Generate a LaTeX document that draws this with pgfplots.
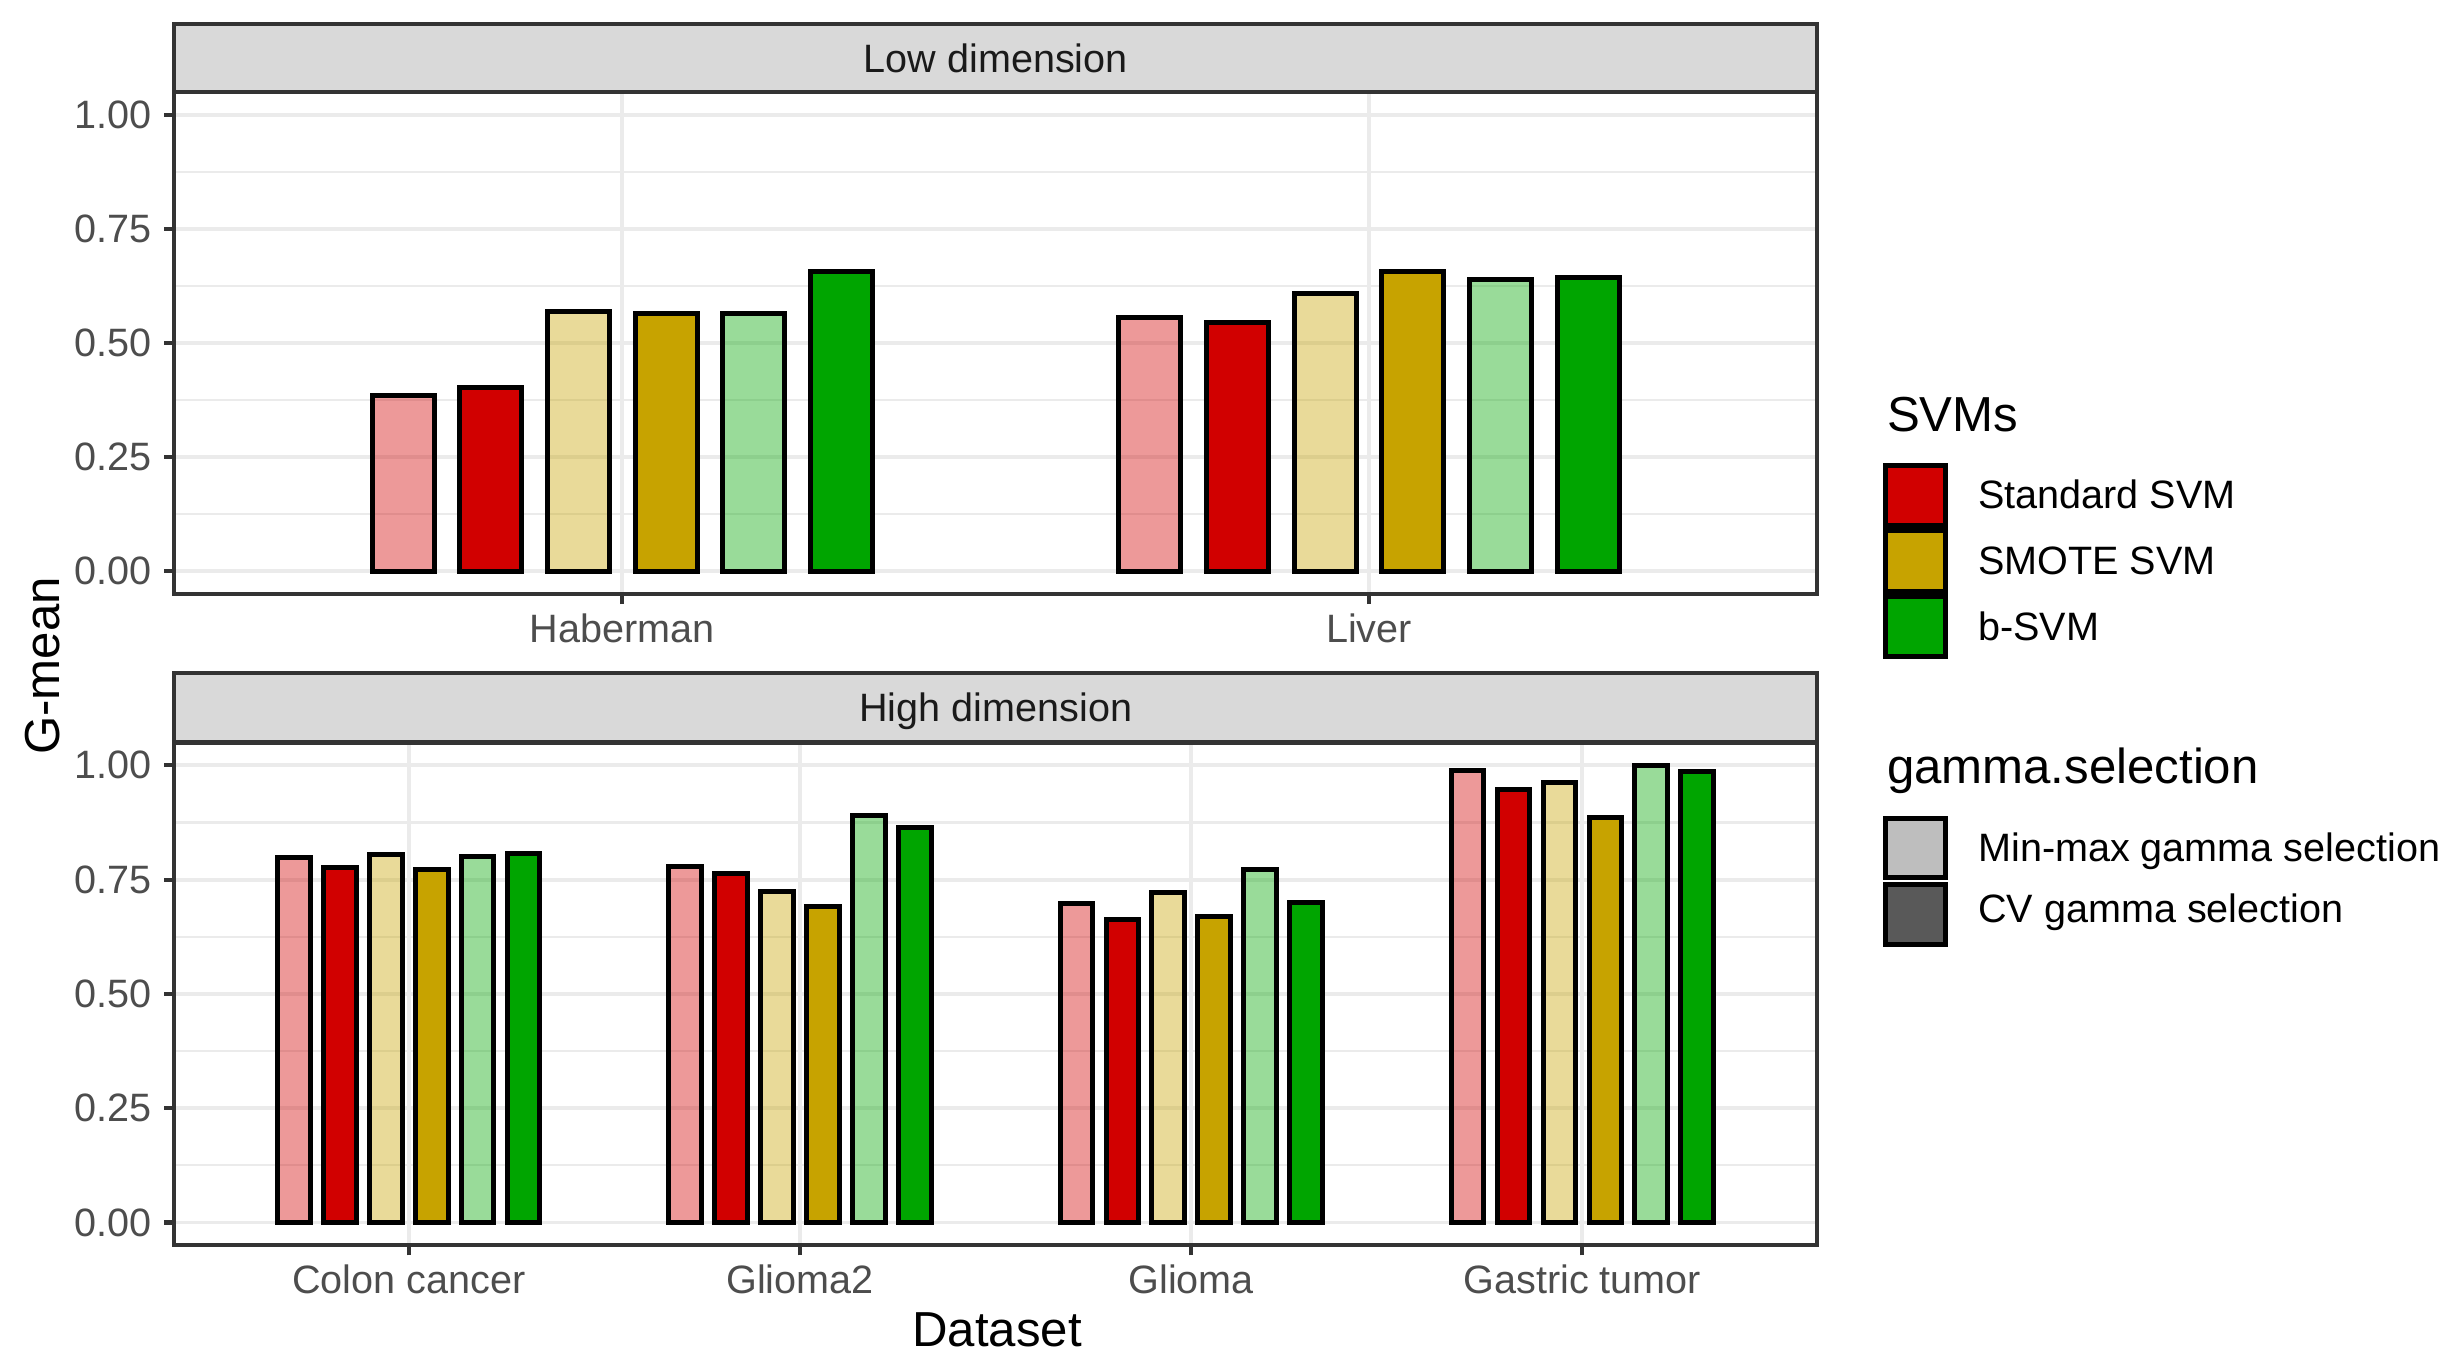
\documentclass[border=0pt]{standalone}
\usepackage{fontspec}
\setmainfont{Liberation Sans}
\usepackage{pgfplots}
\usepackage{pgfplotstable}
\pgfplotsset{compat=1.18}

\definecolor{svmRed}{HTML}{D10000}
\definecolor{svmGold}{HTML}{C7A300}
\definecolor{svmGreen}{HTML}{00A500}
\definecolor{grayXX}{HTML}{333333}
\definecolor{grayXXX}{HTML}{4D4D4D}
\definecolor{gridc}{HTML}{EBEBEB}
\definecolor{stripc}{HTML}{D9D9D9}
\definecolor{striptext}{HTML}{1A1A1A}
\definecolor{keyLight}{HTML}{BEBEBE}
\definecolor{keyDark}{HTML}{595959}

% G-mean, columns: min-max / CV for Standard, SMOTE, b-SVM
\pgfplotstableread{
idx mmstd cvstd mmsmote cvsmote mmb cvb
1 0.386 0.402 0.570 0.564 0.565 0.656
2 0.556 0.546 0.609 0.657 0.640 0.644
}\lowdim

\pgfplotstableread{
idx mmstd cvstd mmsmote cvsmote mmb cvb
1 0.798 0.776 0.806 0.772 0.801 0.808
2 0.778 0.764 0.724 0.691 0.891 0.863
3 0.697 0.662 0.721 0.669 0.772 0.699
4 0.988 0.947 0.962 0.885 0.999 0.986
}\highdim

\newcommand{\smallfont}{\fontsize{9.5}{11}\selectfont}
\newcommand{\bigfont}{\fontsize{11.8}{14}\selectfont}

\pgfplotsset{
  panel/.style={
    scale only axis, width=394.3pt,
    ybar, bar width=0.083,
    ymin=-0.05, ymax=1.05,
    ytick={0,0.25,0.5,0.75,1},
    yticklabels={0.00,0.25,0.50,0.75,1.00},
    minor ytick={0.125,0.375,0.625,0.875},
    grid=both,
    major grid style={color=gridc, line width=0.9pt},
    minor grid style={color=gridc, line width=0.5pt},
    axis line style={color=grayXX, line width=1pt},
    tick align=outside, xtick pos=left, ytick pos=left,
    major tick length=2.4pt, minor tick length=0pt,
    major tick style={color=grayXX, line width=1pt},
    ticklabel style={font=\smallfont, text=grayXXX},
    xticklabel style={yshift=1.3pt},
    yticklabel style={xshift=0.4pt},
    /pgf/number format/assume math mode=true,
  },
  mm/.style={fill=#1, fill opacity=0.4, draw=black, draw opacity=1, line width=1.2pt},
  cv/.style={fill=#1, draw=black, line width=1.2pt},
}

\begin{document}
\begin{tikzpicture}
\useasboundingbox (0,0) rectangle (589.7pt,-327.6pt);

% top panel: low dimension
\begin{axis}[panel, at={(41.8pt,-22.1pt)}, anchor=north west, height=120.5pt,
  xmin=0.4, xmax=2.6, xtick={1,2}, xticklabels={Haberman,Liver}]
\addplot[mm=svmRed,   bar shift=-0.2935] table[x=idx,y=mmstd]{\lowdim};
\addplot[cv=svmRed,   bar shift=-0.1761] table[x=idx,y=cvstd]{\lowdim};
\addplot[mm=svmGold,  bar shift=-0.0587] table[x=idx,y=mmsmote]{\lowdim};
\addplot[cv=svmGold,  bar shift=0.0587]  table[x=idx,y=cvsmote]{\lowdim};
\addplot[mm=svmGreen, bar shift=0.1761]  table[x=idx,y=mmb]{\lowdim};
\addplot[cv=svmGreen, bar shift=0.2935]  table[x=idx,y=cvb]{\lowdim};
\end{axis}

% bottom panel: high dimension
\begin{axis}[panel, at={(41.8pt,-178.2pt)}, anchor=north west, height=120.7pt,
  xmin=0.4, xmax=4.6, xtick={1,2,3,4},
  xticklabels={Colon cancer,Glioma2,Glioma,Gastric tumor}]
\addplot[mm=svmRed,   bar shift=-0.2935] table[x=idx,y=mmstd]{\highdim};
\addplot[cv=svmRed,   bar shift=-0.1761] table[x=idx,y=cvstd]{\highdim};
\addplot[mm=svmGold,  bar shift=-0.0587] table[x=idx,y=mmsmote]{\highdim};
\addplot[cv=svmGold,  bar shift=0.0587]  table[x=idx,y=cvsmote]{\highdim};
\addplot[mm=svmGreen, bar shift=0.1761]  table[x=idx,y=mmb]{\highdim};
\addplot[cv=svmGreen, bar shift=0.2935]  table[x=idx,y=cvb]{\highdim};
\end{axis}

% facet strips
\draw[fill=stripc, draw=grayXX, line width=1pt] (41.8pt,-5.7pt) rectangle (436.1pt,-22.1pt);
\node[anchor=base, font=\smallfont, text=striptext] at (239pt,-17.3pt) {Low dimension};
\draw[fill=stripc, draw=grayXX, line width=1pt] (41.8pt,-161.6pt) rectangle (436.1pt,-178.2pt);
\node[anchor=base, font=\smallfont, text=striptext] at (239pt,-173.2pt) {High dimension};

% axis titles
\node[anchor=base, font=\bigfont] at (239.3pt,-323.2pt) {Dataset};
\node[anchor=base, rotate=90, font=\bigfont] at (14.2pt,-159.8pt) {G-mean};

% legends
\begin{scope}[line width=1.2pt]
\node[anchor=base west, font=\bigfont, inner sep=0pt] at (452.3pt,-103.6pt) {SVMs};
\draw[fill=svmRed]   (452.6pt,-111.6pt) rectangle (467.0pt,-126.15pt);
\draw[fill=svmGold]  (452.6pt,-127.35pt) rectangle (467.0pt,-141.9pt);
\draw[fill=svmGreen] (452.6pt,-143.1pt) rectangle (467.0pt,-157.65pt);
\node[anchor=base west, font=\smallfont, inner sep=0pt] at (474.2pt,-122.0pt) {Standard SVM};
\node[anchor=base west, font=\smallfont, inner sep=0pt] at (474.2pt,-137.8pt) {SMOTE SVM};
\node[anchor=base west, font=\smallfont, inner sep=0pt] at (474.2pt,-153.8pt) {b-SVM};

\node[anchor=base west, font=\bigfont, inner sep=0pt] at (452.3pt,-188.0pt) {gamma.selection};
\draw[fill=keyLight] (452.6pt,-196.4pt) rectangle (467.0pt,-210.6pt);
\draw[fill=keyDark]  (452.6pt,-212.2pt) rectangle (467.0pt,-226.6pt);
\node[anchor=base west, font=\smallfont, inner sep=0pt] at (474.2pt,-206.8pt) {Min-max gamma selection};
\node[anchor=base west, font=\smallfont, inner sep=0pt] at (474.2pt,-221.3pt) {CV gamma selection};
\end{scope}
\end{tikzpicture}
\end{document}
